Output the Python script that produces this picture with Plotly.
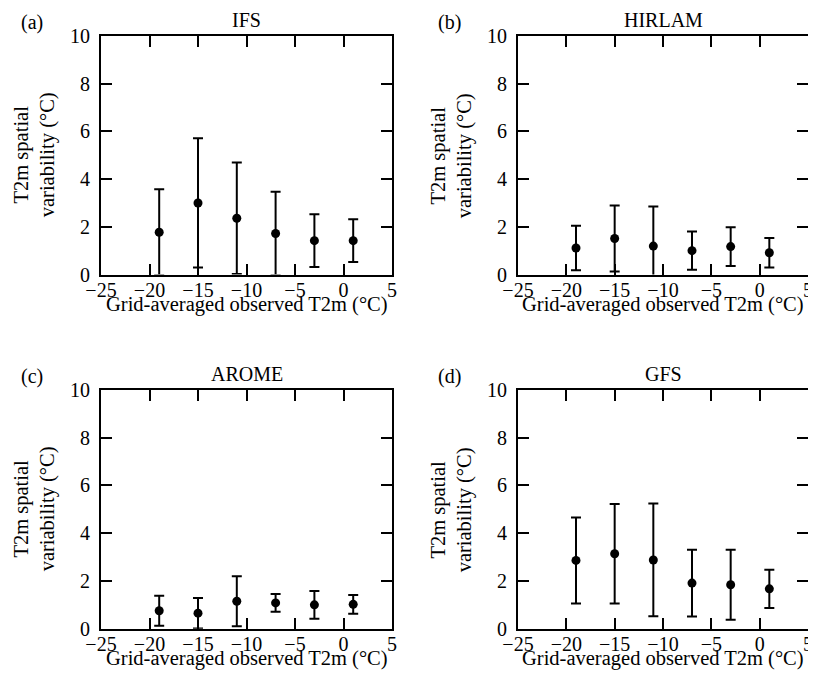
import plotly.graph_objects as go

# ---------------- data ----------------
temp_bins = [-19, -15, -11, -7, -3, 1]

ifs_mean = [1.77, 3.00, 2.36, 1.72, 1.42, 1.42]
ifs_err = [1.80, 2.71, 2.34, 1.75, 1.11, 0.90]

hirlam_mean = [1.11, 1.51, 1.19, 1.00, 1.17, 0.91]
hirlam_err = [0.93, 1.38, 1.66, 0.80, 0.81, 0.62]

arome_mean = [0.75, 0.65, 1.15, 1.08, 1.00, 1.02]
arome_err = [0.63, 0.64, 1.05, 0.37, 0.58, 0.39]

gfs_mean = [2.86, 3.14, 2.88, 1.91, 1.84, 1.67]
gfs_err = [1.80, 2.08, 2.36, 1.40, 1.47, 0.80]

model_names = ["IFS", "HIRLAM", "AROME", "GFS"]
panel_letters = ["(a)", "(b)", "(c)", "(d)"]
x_ticks = [-25, -20, -15, -10, -5, 0, 5]
y_ticks = [0, 2, 4, 6, 8, 10]
x_title = "Grid-averaged observed T2m (°C)"
y_title = "T2m spatial<br>variability (°C)"

W, H = 816, 686
OFF = 8  # page body margin compensation
FONT = "Liberation Serif, Times New Roman, serif"
FS = 20
FT = 20.5


def px(x):
    return (x - OFF) / W


def py(y):
    return 1 - (y - OFF) / H


# panel pixel boxes (left, right, top, bottom) in window pixels
boxes = [
    (101, 392, 36, 274.5),
    (518, 808, 36, 274.5),
    (101, 392, 390, 628.7),
    (518, 808, 390, 628.7),
]

means = [ifs_mean, hirlam_mean, arome_mean, gfs_mean]
errs = [ifs_err, hirlam_err, arome_err, gfs_err]

fig = go.Figure()
layout = dict(
    width=W, height=H, autosize=False,
    margin=dict(l=0, r=0, t=0, b=0, pad=0, autoexpand=False),
    paper_bgcolor="white", plot_bgcolor="white",
    showlegend=False,
    font=dict(family=FONT, size=FS, color="black"),
)
annotations = []

for i in range(4):
    sfx = "" if i == 0 else str(i + 1)
    l, r, t, b = boxes[i]
    fig.add_trace(go.Scatter(
        x=temp_bins, y=means[i],
        mode="markers",
        marker=dict(color="black", size=9),
        error_y=dict(type="data", array=errs[i], visible=True,
                     color="black", thickness=2, width=5),
        xaxis="x" + sfx, yaxis="y" + sfx,
        cliponaxis=True,
    ))
    axcommon = dict(
        showgrid=False, zeroline=False, showline=True, linecolor="black",
        linewidth=2, mirror="allticks", ticks="inside", ticklen=11,
        tickwidth=1.5, tickcolor="black", automargin=False,
        tickfont=dict(family=FONT, size=FS, color="black"),
    )
    layout["xaxis" + sfx] = dict(
        axcommon, domain=[px(l), px(r)], range=[-25, 5],
        tickvals=x_ticks, anchor="y" + sfx, ticklabelstandoff=-4,
    )
    layout["yaxis" + sfx] = dict(
        axcommon, domain=[py(b), py(t)], range=[0, 10],
        tickvals=y_ticks, anchor="x" + sfx, ticklabelstandoff=5,
    )
    cx = (l + r) / 2
    # panel title
    annotations.append(dict(text=model_names[i], x=px(cx), y=py(t - 16),
                            xref="paper", yref="paper", showarrow=False,
                            xanchor="center", yanchor="middle",
                            font=dict(family=FONT, size=FS)))
    # panel letter
    annotations.append(dict(text=panel_letters[i], x=px(l - 69), y=py(t - 14),
                            xref="paper", yref="paper", showarrow=False,
                            xanchor="center", yanchor="middle",
                            font=dict(family=FONT, size=FS)))
    # x title
    annotations.append(dict(text=x_title, x=px(cx), y=py(b + 30),
                            xref="paper", yref="paper", showarrow=False,
                            xanchor="center", yanchor="middle",
                            font=dict(family=FONT, size=FT)))
    # y title
    annotations.append(dict(text=y_title, x=px(l - 66), y=py((t + b) / 2),
                            xref="paper", yref="paper", showarrow=False,
                            xanchor="center", yanchor="middle", textangle=-90,
                            font=dict(family=FONT, size=FT)))

layout["annotations"] = annotations
fig.update_layout(**layout)
fig.write_html("out.html")
